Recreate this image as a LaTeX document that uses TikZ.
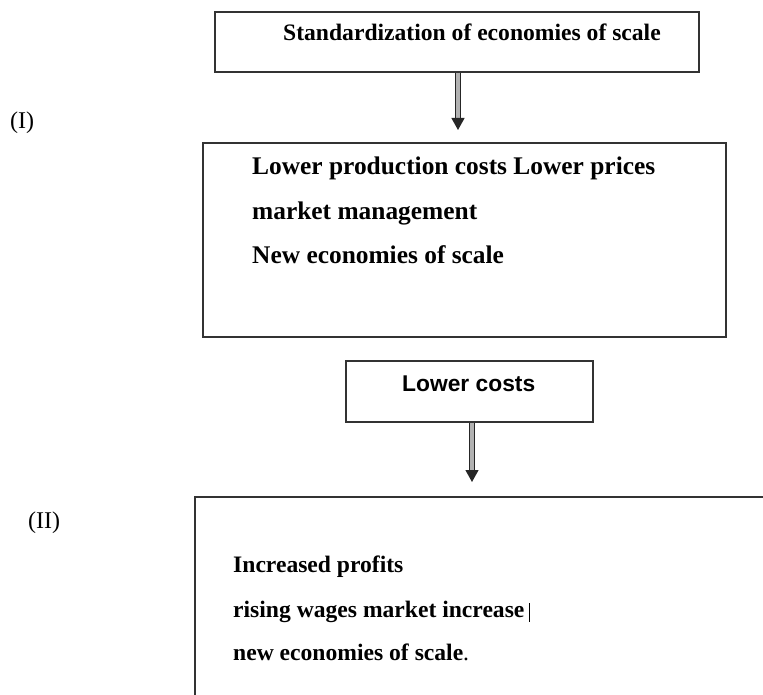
\documentclass[tikz,border=0pt]{standalone}
\usepackage{fontspec}
\setmainfont{Liberation Serif}
\newfontfamily\arialfont{Liberation Sans}
\usetikzlibrary{arrows.meta}
\begin{document}
\begin{tikzpicture}[x=1pt,y=-1pt,
  box/.style={draw=black!80, line width=1.3pt, rectangle, inner sep=0pt},
  txt/.style={anchor=base west, inner sep=0pt, font=\fontsize{23.6}{28}\selectfont\bfseries},
  bigtxt/.style={anchor=base west, inner sep=0pt, font=\fontsize{25.4}{30}\selectfont\bfseries},
  tag/.style={anchor=base west, inner sep=0pt, font=\fontsize{24}{28}\selectfont},
  flow/.style={line width=1.2pt, draw=black!85, double=black!30, double distance=4.2pt,
    -{Triangle[width=13pt,length=12pt]}}
]
\useasboundingbox (0,0) rectangle (763,695);
\clip (0,0) rectangle (763,695);

% boxes
\node[box, minimum width=484pt, minimum height=60pt] (top) at (457,42) {};
\node[box, minimum width=523pt, minimum height=194pt] (mid) at (464.5,240) {};
\node[box, minimum width=247pt, minimum height=61pt] (low) at (469.5,391.5) {};
\node[box, line width=1.6pt, minimum width=605pt, minimum height=243pt] (bot) at (497.5,618.5) {};

% texts
\node[txt] (t1) at (283,41) {Standardization of economies of scale};
\node[bigtxt] (m1) at (252,175) {Lower production costs Lower prices};
\node[bigtxt] (m2) at (252,219) {market management};
\node[bigtxt] (m3) at (252,263) {New economies of scale};
\node[anchor=base west, inner sep=0pt, font=\arialfont\fontsize{22.8}{27}\selectfont\bfseries] (l1) at (402,391) {Lower costs};
\node[txt] (b1) at (233,572) {Increased profits};
\node[txt] (b2) at (233,617) {rising wages market increase};
\node[txt] (b3) at (233,660) {new economies of scale{\mdseries.}};
\draw[line width=1pt] (529,603) -- (529,622);

% side labels
\node[tag] (r1) at (10,129) {(I)};
\node[tag] (r2) at (28,528) {(II)};

% arrows
\coordinate (a1) at (458,130);
\coordinate (a2) at (472,482);
\draw[flow] (top.south -| a1) -- (a1);
\draw[flow] (low.south -| a2) -- (a2);
\end{tikzpicture}
\end{document}
